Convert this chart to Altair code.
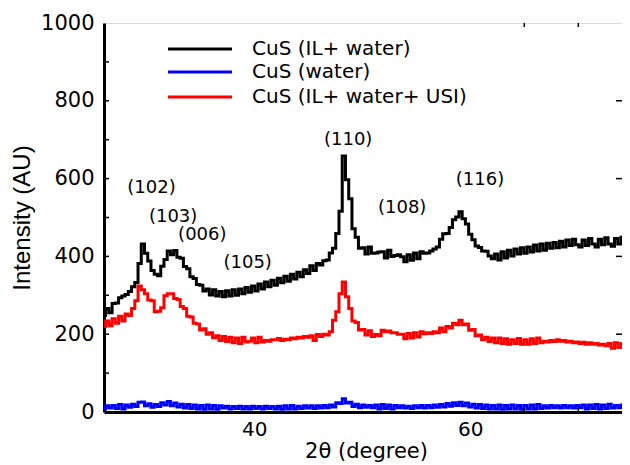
import altair as alt
import pandas as pd

# 2-theta sampling grid (degrees)
x_start = 26.1
x_step = 0.3

black = [
    248, 266, 255, 279, 280, 294, 298, 302, 310, 322,
    333, 382, 432, 408, 388, 364, 354, 350, 375, 392,
    414, 404, 415, 398, 395, 374, 368, 348, 343, 328,
    326, 311, 316, 301, 314, 298, 310, 296, 312, 298,
    314, 300, 316, 304, 320, 308, 324, 311, 329, 316,
    334, 322, 339, 326, 344, 332, 349, 336, 354, 342,
    359, 348, 366, 356, 376, 364, 382, 378, 389, 391,
    409, 421, 459, 516, 658, 597, 548, 471, 449, 421,
    422, 406, 424, 408, 409, 411, 412, 396, 416, 400,
    402, 404, 399, 386, 404, 390, 409, 394, 412, 408,
    409, 414, 419, 424, 444, 458, 459, 474, 494, 501,
    515, 497, 483, 457, 443, 427, 423, 414, 413, 401,
    394, 406, 391, 412, 396, 416, 401, 419, 406, 422,
    408, 424, 411, 429, 414, 432, 416, 434, 421, 436,
    422, 439, 424, 442, 428, 444, 430, 424, 442, 428,
    446, 432, 424, 444, 430, 448, 432, 426, 446, 432,
    449, 436,
]

blue = [
    8, 16, 10, 17, 9, 19, 8, 18, 12, 20,
    14, 25, 26, 16, 21, 12, 19, 14, 24, 18,
    27, 16, 23, 13, 20, 10, 19, 9, 18, 8,
    17, 7, 18, 8, 17, 7, 16, 10, 15, 8,
    14, 9, 15, 8, 14, 8, 15, 9, 14, 8,
    15, 9, 14, 8, 15, 7, 16, 8, 17, 8,
    15, 9, 16, 10, 16, 9, 16, 10, 17, 11,
    18, 13, 24, 22, 34, 23, 25, 14, 20, 11,
    18, 12, 17, 11, 18, 8, 19, 9, 18, 8,
    17, 11, 16, 10, 15, 9, 16, 11, 17, 10,
    17, 11, 18, 12, 19, 13, 22, 15, 24, 17,
    25, 16, 23, 13, 20, 10, 19, 9, 18, 8,
    17, 8, 18, 7, 17, 8, 18, 8, 17, 7,
    17, 8, 18, 8, 19, 9, 16, 10, 17, 11,
    16, 10, 17, 11, 16, 10, 17, 11, 18, 8,
    18, 9, 19, 8, 18, 9, 20, 10, 17, 11,
    18, 12,
]

red = [
    220, 234, 222, 240, 228, 246, 234, 252, 248, 266,
    286, 324, 314, 304, 288, 286, 258, 259, 268, 299,
    304, 304, 292, 289, 271, 266, 246, 244, 228, 226,
    211, 214, 200, 204, 191, 196, 184, 194, 181, 192,
    178, 190, 176, 192, 180, 182, 190, 178, 192, 180,
    184, 182, 186, 186, 189, 184, 187, 186, 190, 188,
    192, 190, 194, 192, 196, 184, 199, 194, 200, 198,
    206, 236, 258, 304, 334, 296, 266, 234, 230, 211,
    212, 198, 209, 194, 199, 196, 210, 206, 208, 204,
    204, 200, 200, 188, 202, 190, 204, 193, 206, 201,
    204, 202, 206, 204, 216, 206, 220, 216, 228, 224,
    236, 224, 226, 210, 212, 196, 198, 186, 192, 181,
    190, 178, 190, 176, 188, 174, 186, 176, 189, 174,
    186, 174, 188, 176, 190, 178, 182, 180, 184, 181,
    186, 182, 184, 180, 182, 178, 180, 176, 179, 174,
    178, 174, 176, 172, 174, 170, 176, 164, 178, 166,
    176, 166,
]

names = ["CuS (IL+ water)", "CuS (water)", "CuS (IL+ water+ USI)"]
colors = ["#000000", "#0000ff", "#ff0000"]

peak_labels = ["(102)", "(103)", "(006)", "(105)", "(110)", "(108)", "(116)"]
peak_x = [30.5, 32.5, 35.2, 39.4, 48.7, 53.7, 60.9]
peak_y = [576, 501, 455, 383, 699, 524, 596]

y_minor_ticks = [100, 200, 300, 400, 500, 600, 700, 800, 900]
y_right_ticks = [200, 400, 600, 800]
x_minor_ticks = [65, 70]

rows = []
for name, vals in zip(names, [black, blue, red]):
    for i, v in enumerate(vals):
        rows.append({"two_theta": round(x_start + x_step * i, 2),
                     "intensity": v, "series": name})
df = pd.DataFrame(rows)

peaks_df = pd.DataFrame({"label": peak_labels, "x": peak_x, "y": peak_y})
yt_df = pd.DataFrame({"v": y_minor_ticks})
yr_df = pd.DataFrame({"v": y_right_ticks})
xt_df = pd.DataFrame({"v": x_minor_ticks})

FONT = "DejaVu Sans"

xscale = alt.Scale(domain=[26.1, 74.6], nice=False, zero=False)
yscale = alt.Scale(domain=[0, 1000], nice=False)

lines = alt.Chart(df).mark_line(strokeWidth=3, interpolate="step", clip=True).encode(
    x=alt.X("two_theta:Q", scale=xscale,
            axis=alt.Axis(values=[40, 60], title="2θ (degree)", ticks=False,
                          grid=False, domainWidth=3, domainColor="black",
                          labelFont=FONT, labelFontSize=20, labelColor="black",
                          labelPadding=7, titleFont=FONT, titleFontSize=21,
                          titleFontWeight="normal", titleColor="black",
                          titlePadding=1)),
    y=alt.Y("intensity:Q", scale=yscale,
            axis=alt.Axis(values=[0, 200, 400, 600, 800, 1000], title="Intensity (AU)",
                          ticks=False, grid=False, domainWidth=3, domainColor="black",
                          labelFont=FONT, labelFontSize=21, labelColor="black",
                          labelPadding=10, format="d",
                          titleFont="Liberation Sans", titleFontSize=24,
                          titleFontWeight="normal", titleColor="black",
                          titlePadding=6)),
    color=alt.Color("series:N", scale=alt.Scale(domain=names, range=colors), legend=None),
    order=alt.Order("two_theta:Q"),
)

peaks = alt.Chart(peaks_df).mark_text(font=FONT, fontSize=18, color="black",
                                      baseline="middle", align="center").encode(
    x=alt.X("x:Q", scale=xscale), y=alt.Y("y:Q", scale=yscale), text="label:N")

yticks_left = alt.Chart(yt_df).mark_rule(color="black", strokeWidth=1.5).encode(
    y=alt.Y("v:Q", scale=yscale), x=alt.value(0), x2=alt.value(5))
yticks_right = alt.Chart(yr_df).mark_rule(color="black", strokeWidth=1.5).encode(
    y=alt.Y("v:Q", scale=yscale), x=alt.value(512), x2=alt.value(518))
xticks_top = alt.Chart(xt_df).mark_rule(color="black", strokeWidth=1.5).encode(
    x=alt.X("v:Q", scale=xscale), y=alt.value(0), y2=alt.value(4))
xticks_bottom = alt.Chart(xt_df).mark_rule(color="black", strokeWidth=1.5).encode(
    x=alt.X("v:Q", scale=xscale), y=alt.value(385), y2=alt.value(389))

legend_layers = []
legend_rows = [26, 49, 74]
for name, col, ry in zip(names, colors, legend_rows):
    ldf = pd.DataFrame({"series": [name]})
    legend_layers.append(
        alt.Chart(ldf).mark_rule(color=col, strokeWidth=3).encode(
            x=alt.value(64), x2=alt.value(128), y=alt.value(ry)))
    legend_layers.append(
        alt.Chart(ldf).mark_text(font=FONT, fontSize=20, color="black",
                                 align="left", baseline="middle").encode(
            x=alt.value(148), y=alt.value(ry), text="series:N"))

chart = alt.layer(lines, peaks, yticks_left, yticks_right, xticks_top, xticks_bottom,
                  *legend_layers).properties(
    width=524, height=389,
    autosize=alt.AutoSizeParams(type="none"),
    padding={"left": 96, "top": 15, "right": -6, "bottom": 51},
).configure_view(stroke="black", strokeWidth=2).configure(background="white")

chart.save("out.html", embed_options={"renderer": "svg", "actions": False})
